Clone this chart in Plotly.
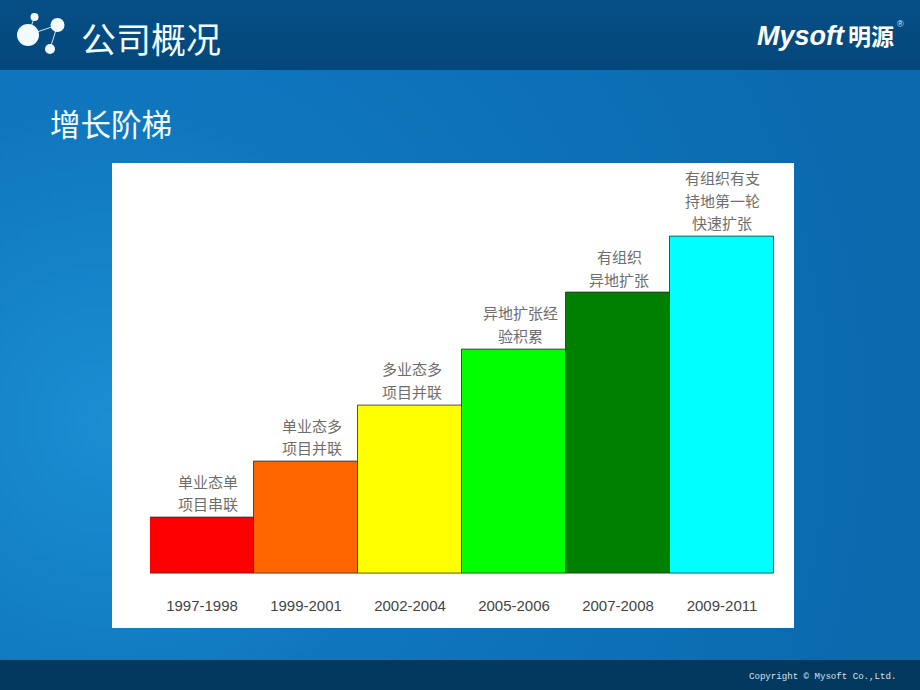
import base64
import plotly.graph_objects as go

W, H = 920, 690

periods = ["1997-1998", "1999-2001", "2002-2004", "2005-2006", "2007-2008", "2009-2011"]
stage_values = [1, 2, 3, 4, 5, 6]
bar_colors = ["#ff0000", "#ff6600", "#ffff00", "#00ff00", "#008000", "#00ffff"]
stage_lines = [
    ["单业态单", "项目串联"],
    ["单业态多", "项目并联"],
    ["多业态多", "项目并联"],
    ["异地扩张经", "验积累"],
    ["有组织", "异地扩张"],
    ["有组织有支", "持地第一轮", "快速扩张"],
]
label_xshift = [6, 6, 2, 6, 1, 0]
header_title = "公司概况"
section_title = "增长阶梯"
copyright_text = "Copyright © Mysoft Co.,Ltd."

CJK = "Noto Sans CJK SC"


def px(x):
    return x / W


def py(y):
    return 1 - y / H


svg = f"""<svg xmlns='http://www.w3.org/2000/svg' width='{W}' height='{H}' viewBox='0 0 {W} {H}'>
<defs>
<radialGradient id='g' gradientUnits='userSpaceOnUse' cx='110' cy='420' r='800'>
<stop offset='0' stop-color='#1b8ed2'/><stop offset='0.4' stop-color='#0f76bd'/><stop offset='1' stop-color='#0b69ae'/>
</radialGradient>
<linearGradient id='t' x1='0' y1='0' x2='0' y2='1'><stop offset='0' stop-color='#064f86'/><stop offset='1' stop-color='#04477a'/></linearGradient>
</defs>
<rect width='{W}' height='{H}' fill='url(#g)'/>
<rect width='{W}' height='70' fill='url(#t)'/>
<rect y='660' width='{W}' height='30' fill='#04395f'/>
</svg>"""
bg = "data:image/svg+xml;base64," + base64.b64encode(svg.encode()).decode()

fig = go.Figure(
    go.Bar(
        x=periods,
        y=stage_values,
        width=1,
        marker=dict(color=bar_colors, line=dict(color="rgba(40,40,40,0.8)", width=1)),
        hoverinfo="skip",
    )
)

annotations = []
for period, value, lines, shift in zip(periods, stage_values, stage_lines, label_xshift):
    n = len(lines)
    for i, line in enumerate(lines):
        annotations.append(dict(
            x=period, y=value, xref="x", yref="y", text=line, showarrow=False,
            xshift=shift, yshift=(n - 1 - i) * 22.5 + 14, yanchor="middle", xanchor="center",
            font=dict(family=CJK, size=15, color="#6e6e6e"),
        ))

annotations += [
    dict(x=px(79), y=py(38), xref="paper", yref="paper", xanchor="left", yanchor="middle",
         text=header_title, showarrow=False, font=dict(family=CJK, size=35, color="#f2fbff")),
    dict(x=px(47.5), y=py(123), xref="paper", yref="paper", xanchor="left", yanchor="middle",
         text=section_title, showarrow=False, font=dict(family=CJK, size=30.5, color="#f2fbff")),
    dict(x=px(755), y=py(36), xref="paper", yref="paper", xanchor="left", yanchor="middle",
         text="<b><i>Mysoft</i></b>", showarrow=False,
         font=dict(family="Liberation Sans", size=27, color="#ffffff")),
    dict(x=px(846), y=py(35), xref="paper", yref="paper", xanchor="left", yanchor="middle",
         text="<b>明源</b>", showarrow=False, font=dict(family=CJK, size=23, color="#ffffff")),
    dict(x=px(895), y=py(24), xref="paper", yref="paper", xanchor="left", yanchor="middle",
         text="®", showarrow=False, font=dict(family="Liberation Sans", size=9, color="#dfeaf2")),
    dict(x=px(898), y=py(676), xref="paper", yref="paper", xanchor="right", yanchor="middle",
         text=copyright_text, showarrow=False, font=dict(family="Liberation Mono", size=9.1, color="#d5e2ea")),
]


def circle(cx, cy, r, color="#f4fbff"):
    return dict(type="circle", xref="paper", yref="paper", x0=px(cx - r), x1=px(cx + r),
                y0=py(cy - r), y1=py(cy + r), fillcolor=color, line=dict(width=0), layer="below")


def seg(x0, y0, x1, y1):
    return dict(type="line", xref="paper", yref="paper", x0=px(x0), y0=py(y0), x1=px(x1), y1=py(y1),
                line=dict(color="#cfe6f2", width=1), layer="below")


shapes = [
    dict(type="rect", xref="paper", yref="paper", x0=px(112), x1=px(794), y0=py(163), y1=py(628),
         fillcolor="#ffffff", line=dict(width=0), layer="below"),
    seg(28, 35, 34.5, 17), seg(28, 35, 57.5, 25), seg(57.5, 25, 50, 49),
    circle(28, 35, 11), circle(34.5, 17, 4), circle(57.5, 25, 7), circle(50, 49, 5),
]

fig.update_layout(
    width=W, height=H, margin=dict(l=0, r=0, t=0, b=0), autosize=False,
    paper_bgcolor="rgba(0,0,0,0)", plot_bgcolor="rgba(0,0,0,0)",
    showlegend=False, bargap=0,
    images=[dict(source=bg, xref="paper", yref="paper", x=0, y=1, sizex=1, sizey=1,
                 xanchor="left", yanchor="top", sizing="stretch", layer="below")],
    shapes=shapes, annotations=annotations,
    xaxis=dict(domain=[px(150), px(774)], type="category", categoryorder="array", categoryarray=periods,
               showgrid=False, zeroline=False, showline=False, ticks="outside", ticklen=18,
               tickcolor="rgba(0,0,0,0)", tickfont=dict(family="Liberation Sans", size=15, color="#444444")),
    yaxis=dict(domain=[py(574), py(180.6)], range=[0, 7], showgrid=False, zeroline=False,
               showline=False, showticklabels=False, ticks=""),
)

fig.write_html("out.html", config=dict(displayModeBar=False),
               post_script="document.body.style.margin='0';document.body.style.overflow='hidden';")
